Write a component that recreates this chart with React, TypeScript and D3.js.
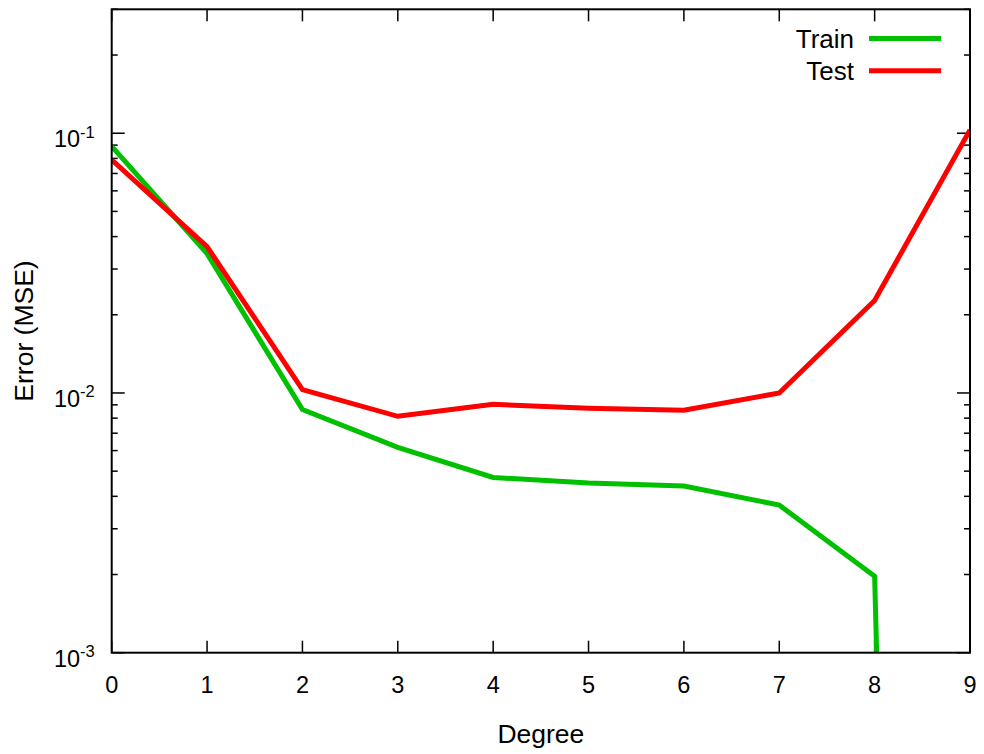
import * as d3 from "d3";

// Data
const degrees = [0, 1, 2, 3, 4, 5, 6, 7, 8, 9];
const trainError = [0.089, 0.0344, 0.00863, 0.00617, 0.00473, 0.0045, 0.00438, 0.0037, 0.00197, 2e-17];
const testError = [0.079, 0.0366, 0.0103, 0.00813, 0.00904, 0.00874, 0.00858, 0.01, 0.0227, 0.103];
const yMajorTicks = [1e-3, 1e-2, 1e-1];
const yTickExponents = ["-3", "-2", "-1"];
const seriesNames = ["Train", "Test"];
const seriesColors = ["#00c000", "#ff0000"];

const width = 984;
const height = 754;
const margin = { top: 9.3, right: 14, bottom: 101.3, left: 111.7 };
const font = "'Liberation Sans', Arial, Helvetica, sans-serif";

const App = () => {
    const x = d3.scaleLinear()
        .domain([0, 9])
        .range([margin.left, width - margin.right]);

    const y = d3.scaleLog()
        .domain([1e-3, 0.3])
        .range([height - margin.bottom, margin.top]);

    const line = d3.line<number>()
        .x((_, i) => x(degrees[i]))
        .y(d => y(d));

    const [x0, x1] = x.range();
    const [yBottom, yTop] = y.range();

    const minorTicks = y.ticks().filter(t => !yMajorTicks.some(m => Math.abs(m - t) / m < 1e-6));

    const series = [trainError, testError];

    return (
        <svg width={width} height={height}
            style={{ position: "absolute", left: 0, top: 0, background: "#fff", fontFamily: font }}>
            <defs>
                <clipPath id="plot-clip">
                    <rect x={x0} y={yTop} width={x1 - x0} height={yBottom - yTop} />
                </clipPath>
            </defs>

            {/* x ticks, bottom and top, pointing inward */}
            {degrees.map(d => (
                <g key={"xt" + d} stroke="#000" strokeWidth={1.5}>
                    <line x1={x(d)} x2={x(d)} y1={yBottom} y2={yBottom - 12} />
                    <line x1={x(d)} x2={x(d)} y1={yTop} y2={yTop + 12} />
                </g>
            ))}
            {degrees.map(d => (
                <text key={"xl" + d} x={x(d)} y={yBottom + 40} fontSize={23.5} textAnchor="middle">{d}</text>
            ))}

            {/* y ticks, left and right */}
            {yMajorTicks.map(t => (
                <g key={"ym" + t} stroke="#000" strokeWidth={1.5}>
                    <line x1={x0} x2={x0 + 13} y1={y(t)} y2={y(t)} />
                    <line x1={x1} x2={x1 - 13} y1={y(t)} y2={y(t)} />
                </g>
            ))}
            {minorTicks.map(t => (
                <g key={"yn" + t} stroke="#000" strokeWidth={1.5}>
                    <line x1={x0} x2={x0 + 6} y1={y(t)} y2={y(t)} />
                    <line x1={x1} x2={x1 - 6} y1={y(t)} y2={y(t)} />
                </g>
            ))}
            {yMajorTicks.map((t, i) => (
                <text key={"yl" + t} x={x0 - 17} y={y(t) + 14} fontSize={23.5} textAnchor="end">
                    10<tspan fontSize={16.5} dy={-9.5}>{yTickExponents[i]}</tspan>
                </text>
            ))}

            {/* data lines */}
            <g clipPath="url(#plot-clip)">
                {series.map((s, i) => (
                    <path key={seriesNames[i]} d={line(s) ?? ""} fill="none"
                        stroke={seriesColors[i]} strokeWidth={5} strokeLinejoin="miter" />
                ))}
            </g>

            {/* frame */}
            <rect x={x0} y={yTop} width={x1 - x0} height={yBottom - yTop}
                fill="none" stroke="#000" strokeWidth={2} />

            {/* legend */}
            {seriesNames.map((name, i) => (
                <g key={"lg" + name}>
                    <text x={854} y={48 + i * 32} fontSize={26} textAnchor="end">{name}</text>
                    <line x1={869} x2={941} y1={38.5 + i * 32.3} y2={38.5 + i * 32.3}
                        stroke={seriesColors[i]} strokeWidth={5} />
                </g>
            ))}

            {/* axis titles */}
            <text x={(x0 + x1) / 2} y={743} fontSize={26.5} textAnchor="middle">Degree</text>
            <text transform={`translate(33,${(yTop + yBottom) / 2}) rotate(-90)`} fontSize={26.5}
                textAnchor="middle">Error (MSE)</text>
        </svg>
    );
};

export default App;
